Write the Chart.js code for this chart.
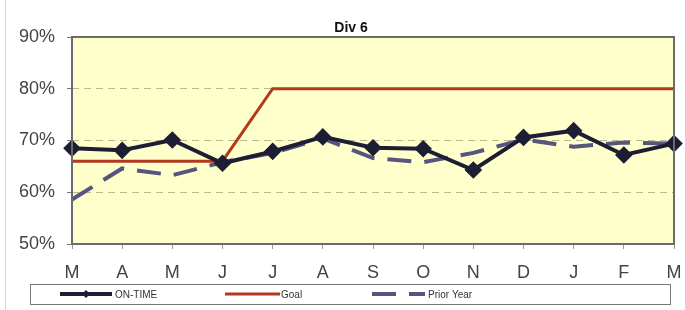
<!DOCTYPE html>
<html>
<head>
<meta charset="utf-8">
<script src="https://cdn.jsdelivr.net/npm/chart.js@4.4.0/dist/chart.umd.min.js"></script>
<style>
html,body{margin:0;padding:0;background:#fff;}
#wrap{position:relative;width:685px;height:310px;}
</style>
</head>
<body>
<div id="wrap"><canvas id="c" width="685" height="310"></canvas></div>
<script>
const categories = ['M','A','M','J','J','A','S','O','N','D','J','F','M'];
const onTime    = [68.5, 68.1, 70.1, 65.6, 67.9, 70.7, 68.6, 68.4, 64.3, 70.6, 71.9, 67.2, 69.4];
const goal      = [66, 66, 66, 66, 80, 80, 80, 80, 80, 80, 80, 80, 80];
const priorYear = [58.6, 64.6, 63.3, 65.8, 67.6, 70.4, 66.6, 65.8, 67.6, 70.2, 68.8, 69.6, 69.4];
const yTicks = [50, 60, 70, 80, 90];
const seriesNames = ['ON-TIME', 'Goal', 'Prior Year'];
const chartTitle = 'Div 6';

const FONT = '"Liberation Sans", Arial, sans-serif';

const bgPlugin = {
  id: 'bg',
  beforeDraw(chart) {
    const {ctx, chartArea: a} = chart;
    ctx.save();
    ctx.fillStyle = '#ffffcc';
    ctx.fillRect(a.left, a.top, a.right - a.left, a.bottom - a.top);
    ctx.strokeStyle = '#d4d4d4';
    ctx.lineWidth = 1;
    ctx.beginPath();
    ctx.moveTo(5.5, 0); ctx.lineTo(5.5, 310);
    ctx.stroke();
    ctx.restore();
  },
  afterDatasetsDraw(chart) {
    const {ctx, chartArea: a} = chart;
    ctx.save();
    ctx.strokeStyle = '#6b6b6b';
    ctx.lineWidth = 2;
    ctx.strokeRect(a.left, a.top, a.right - a.left, a.bottom - a.top);
    ctx.restore();
  }
};

const titlePlugin = {
  id: 'customTitle',
  afterDraw(chart) {
    const ctx = chart.ctx;
    ctx.save();
    ctx.font = 'bold 14px ' + FONT;
    ctx.fillStyle = '#111';
    ctx.textAlign = 'center';
    ctx.textBaseline = 'middle';
    ctx.fillText(chartTitle, 351, 28);
    ctx.restore();
  }
};

const legendPlugin = {
  id: 'customLegend',
  afterDraw(chart) {
    const ctx = chart.ctx;
    const top = 284, h = 20, left = 30, right = 670;
    ctx.save();
    ctx.strokeStyle = '#777';
    ctx.lineWidth = 1;
    ctx.strokeRect(left + 0.5, top + 0.5, right - left, h);
    const cy = top + h / 2;
    const ds = chart.data.datasets;
    const items = [
      {ds: ds[2], x0: 60, x1: 112, tx: 115},
      {ds: ds[1], x0: 225, x1: 280, tx: 281},
      {ds: ds[0], x0: 372, x1: 425, tx: 428}
    ];
    ctx.font = '10px ' + FONT;
    ctx.textBaseline = 'middle';
    items.forEach(it => {
      ctx.strokeStyle = it.ds.borderColor;
      ctx.lineWidth = it.ds.borderWidth;
      ctx.setLineDash(it.ds.borderDash || []);
      ctx.beginPath();
      ctx.moveTo(it.x0, cy);
      ctx.lineTo(it.x1, cy);
      ctx.stroke();
      ctx.setLineDash([]);
      if (it.ds.pointRadius > 0) {
        const mx = (it.x0 + it.x1) / 2, r = 4;
        ctx.fillStyle = it.ds.borderColor;
        ctx.beginPath();
        ctx.moveTo(mx, cy - r); ctx.lineTo(mx + r, cy); ctx.lineTo(mx, cy + r); ctx.lineTo(mx - r, cy);
        ctx.closePath(); ctx.fill();
      }
      ctx.fillStyle = '#333';
      ctx.fillText(it.ds.label, it.tx, cy + 1);
    });
    ctx.restore();
  }
};

new Chart(document.getElementById('c'), {
  type: 'line',
  data: {
    labels: categories,
    datasets: [
      {
        label: seriesNames[2], data: priorYear, order: 3,
        borderColor: '#55557e', borderWidth: 4, borderDash: [24, 13],
        pointRadius: 0, tension: 0
      },
      {
        label: seriesNames[1], data: goal, order: 2,
        borderColor: '#b3391c', borderWidth: 3,
        pointRadius: 0, tension: 0
      },
      {
        label: seriesNames[0], data: onTime, order: 1,
        borderColor: '#1d1d33', backgroundColor: '#1d1d33', borderWidth: 4,
        pointStyle: 'rectRot', pointRadius: 6, pointBackgroundColor: '#1d1d33',
        pointBorderColor: '#1d1d33', tension: 0
      }
    ]
  },
  options: {
    responsive: false,
    animation: false,
    layout: {padding: {top: 37, right: 11, bottom: 26, left: 0}},
    plugins: {
      legend: {display: false},
      tooltip: {enabled: false},
      title: {display: false}
    },
    scales: {
      x: {
        offset: false,
        grid: {drawOnChartArea: false, drawTicks: true, tickLength: 5, color: '#999'},
        border: {display: false},
        ticks: {color: '#444', font: {family: FONT, size: 18}, padding: 13, maxRotation: 0, autoSkip: false},
        afterFit(s) { s.height = 40; s.paddingRight = 0; s.paddingLeft = 0; }
      },
      y: {
        min: 50, max: 90,
        afterBuildTicks(s) { s.ticks = yTicks.map(v => ({value: v})); },
        grid: {
          color: ctx => (ctx.tick && (ctx.tick.value === 50 || ctx.tick.value === 90)) ? 'rgba(0,0,0,0)' : '#b9b98f',
          lineWidth: 1,
          drawTicks: true, tickLength: 5,
          tickColor: '#777'
        },
        border: {display: false, dash: [7, 5]},
        ticks: {color: '#444', font: {family: FONT, size: 18}, padding: 12, callback: v => v + '%'},
        afterFit(s) { s.width = 72; }
      }
    }
  },
  plugins: [bgPlugin, titlePlugin, legendPlugin]
});
</script>
</body>
</html>
